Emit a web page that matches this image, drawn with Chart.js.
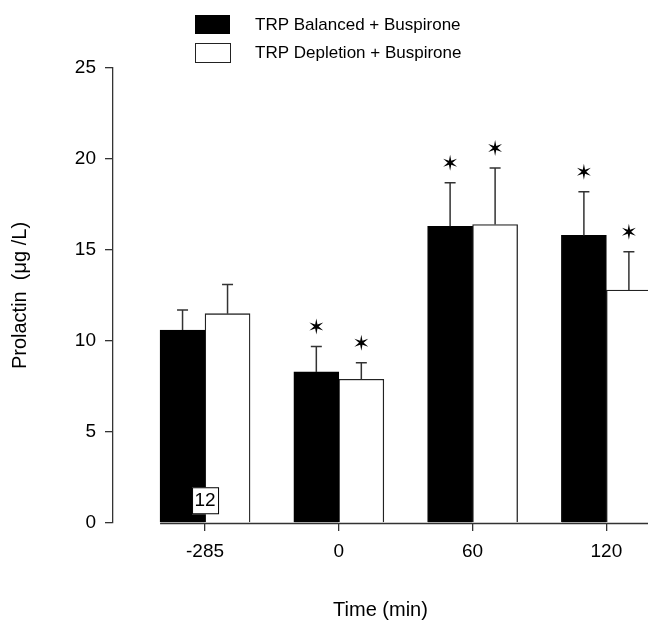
<!DOCTYPE html>
<html>
<head>
<meta charset="utf-8">
<script src="https://cdn.jsdelivr.net/npm/chart.js@4.4.1/dist/chart.umd.min.js"></script>
<style>
  html, body { margin: 0; padding: 0; background: #fff; overflow: hidden; }
  #wrap { width: 648px; height: 623px; }
</style>
</head>
<body>
<div id="wrap"><canvas id="prolactinChart"></canvas></div>
<script>
// values
const timePoints = ['-285', '0', '60', '120'];
const balancedMeans = [10.6, 8.3, 16.3, 15.8];
const balancedErrors = [1.1, 1.4, 2.4, 2.4];
const depletionMeans = [11.5, 7.9, 16.4, 12.8];
const depletionErrors = [1.6, 0.9, 3.1, 2.1];
const balancedSig = [false, true, true, true];
const depletionSig = [false, true, true, true];
const yTicks = [0, 5, 10, 15, 20, 25];
const sampleSize = '12';

const FONT = "'Liberation Sans', Arial, sans-serif";
const AXIS = '#333';

const toPoints = (arr) => arr.map((v, i) => ({ x: i, y: v }));

// error bars (upper only), asterisks, baseline, n label and legend
const extras = {
  id: 'extras',
  afterDatasetsDraw(chart) {
    const { ctx, scales: { x, y }, chartArea } = chart;
    const errs = [balancedErrors, depletionErrors];
    const means = [balancedMeans, depletionMeans];
    const sigs = [balancedSig, depletionSig];

    ctx.save();
    // x axis line, starts at the first bar like the original
    const first = chart.getDatasetMeta(0).data[0];
    const y0 = Math.round(y.getPixelForValue(0)) + 0.5;
    ctx.strokeStyle = AXIS;
    ctx.lineWidth = 1.3;
    ctx.beginPath();
    ctx.moveTo(first.x - first.width / 2, y0);
    ctx.lineTo(chartArea.right + 5, y0);
    ctx.stroke();

    chart.data.datasets.forEach((ds, d) => {
      const meta = chart.getDatasetMeta(d);
      meta.data.forEach((bar, i) => {
        const top = y.getPixelForValue(means[d][i] + errs[d][i]);
        ctx.strokeStyle = AXIS;
        ctx.lineWidth = 1.5;
        ctx.beginPath();
        ctx.moveTo(bar.x, bar.y);
        ctx.lineTo(bar.x, top);
        ctx.moveTo(bar.x - 5.5, top);
        ctx.lineTo(bar.x + 5.5, top);
        ctx.stroke();
        if (sigs[d][i]) drawStar(ctx, bar.x, top - 20, 8, 2.3);
      });
    });

    // n = 12 box
    const bx = x.getPixelForValue(0);
    const by = y.getPixelForValue(1.25);
    ctx.fillStyle = '#fff';
    ctx.strokeStyle = '#000';
    ctx.lineWidth = 1;
    ctx.fillRect(bx - 13, by - 13, 27, 27);
    ctx.strokeRect(bx - 12.5, by - 12.5, 26, 26);
    ctx.fillStyle = '#000';
    ctx.font = '19px ' + FONT;
    ctx.textAlign = 'center';
    ctx.textBaseline = 'middle';
    ctx.fillText(sampleSize, bx, by + 1);
    ctx.restore();
  },
  afterDraw(chart) {
    const { ctx } = chart;
    ctx.save();
    chart.data.datasets.forEach((ds, d) => {
      const top = 15 + d * 28;
      if (d === 0) {
        ctx.fillStyle = ds.backgroundColor;
        ctx.fillRect(195, top, 35, 19);
      } else {
        ctx.strokeStyle = '#222';
        ctx.lineWidth = 1;
        ctx.strokeRect(195.5, top + 0.5, 35, 19);
      }
      ctx.fillStyle = '#000';
      ctx.font = '17px ' + FONT;
      ctx.textAlign = 'left';
      ctx.textBaseline = 'middle';
      ctx.fillText(ds.label, 255, top + 10);
    });
    ctx.restore();
  }
};

function drawStar(ctx, cx, cy, r, inner) {
  ctx.beginPath();
  for (let k = 0; k < 12; k++) {
    const a = -Math.PI / 2 + k * Math.PI / 6;
    const rr = k % 2 === 0 ? r : inner;
    const px = cx + rr * Math.cos(a);
    const py = cy + rr * Math.sin(a);
    if (k === 0) ctx.moveTo(px, py); else ctx.lineTo(px, py);
  }
  ctx.closePath();
  ctx.fillStyle = '#000';
  ctx.fill();
}

new Chart(document.getElementById('prolactinChart'), {
  type: 'bar',
  data: {
    datasets: [
      {
        label: 'TRP Balanced + Buspirone',
        data: toPoints(balancedMeans),
        backgroundColor: '#000',
        borderColor: '#000',
        borderWidth: 1,
      },
      {
        label: 'TRP Depletion + Buspirone',
        data: toPoints(depletionMeans),
        backgroundColor: '#fff',
        borderColor: '#222',
        borderWidth: 1.3,
      },
    ],
  },
  options: {
    responsive: true,
    maintainAspectRatio: false,
    animation: false,
    barThickness: 45,
    layout: { padding: { top: 68, right: 0, bottom: 0, left: 0 } },
    plugins: { legend: { display: false }, tooltip: { enabled: false } },
    scales: {
      x: {
        type: 'linear',
        min: -0.688,
        max: 3.311,
        offset: false,
        afterBuildTicks: (s) => { s.ticks = timePoints.map((t, i) => ({ value: i })); },
        afterFit: (s) => { s.height = 100; },
        ticks: {
          callback: (v, i) => timePoints[i],
          font: { family: FONT, size: 19 },
          color: '#000',
          padding: 9,
          maxRotation: 0,
        },
        grid: { drawOnChartArea: false, offset: false, tickLength: 8, color: AXIS, lineWidth: 1.3 },
        border: { display: false },
        title: {
          display: true,
          text: 'Time (min)',
          font: { family: FONT, size: 20 },
          color: '#000',
          padding: { top: 0, bottom: 1 },
        },
      },
      y: {
        min: 0,
        max: 25,
        afterBuildTicks: (s) => { s.ticks = yTicks.map((v) => ({ value: v })); },
        afterFit: (s) => { s.width = 113; },
        ticks: {
          font: { family: FONT, size: 19 },
          color: '#000',
          padding: 9,
        },
        grid: { drawOnChartArea: false, tickLength: 8, color: AXIS, lineWidth: 1.3 },
        border: { display: true, color: AXIS, width: 1.3 },
        title: {
          display: true,
          text: 'Prolactin  (μg /L)',
          font: { family: FONT, size: 20 },
          color: '#000',
          padding: { top: 8, bottom: 0 },
        },
      },
    },
  },
  plugins: [extras],
});
</script>
</body>
</html>
